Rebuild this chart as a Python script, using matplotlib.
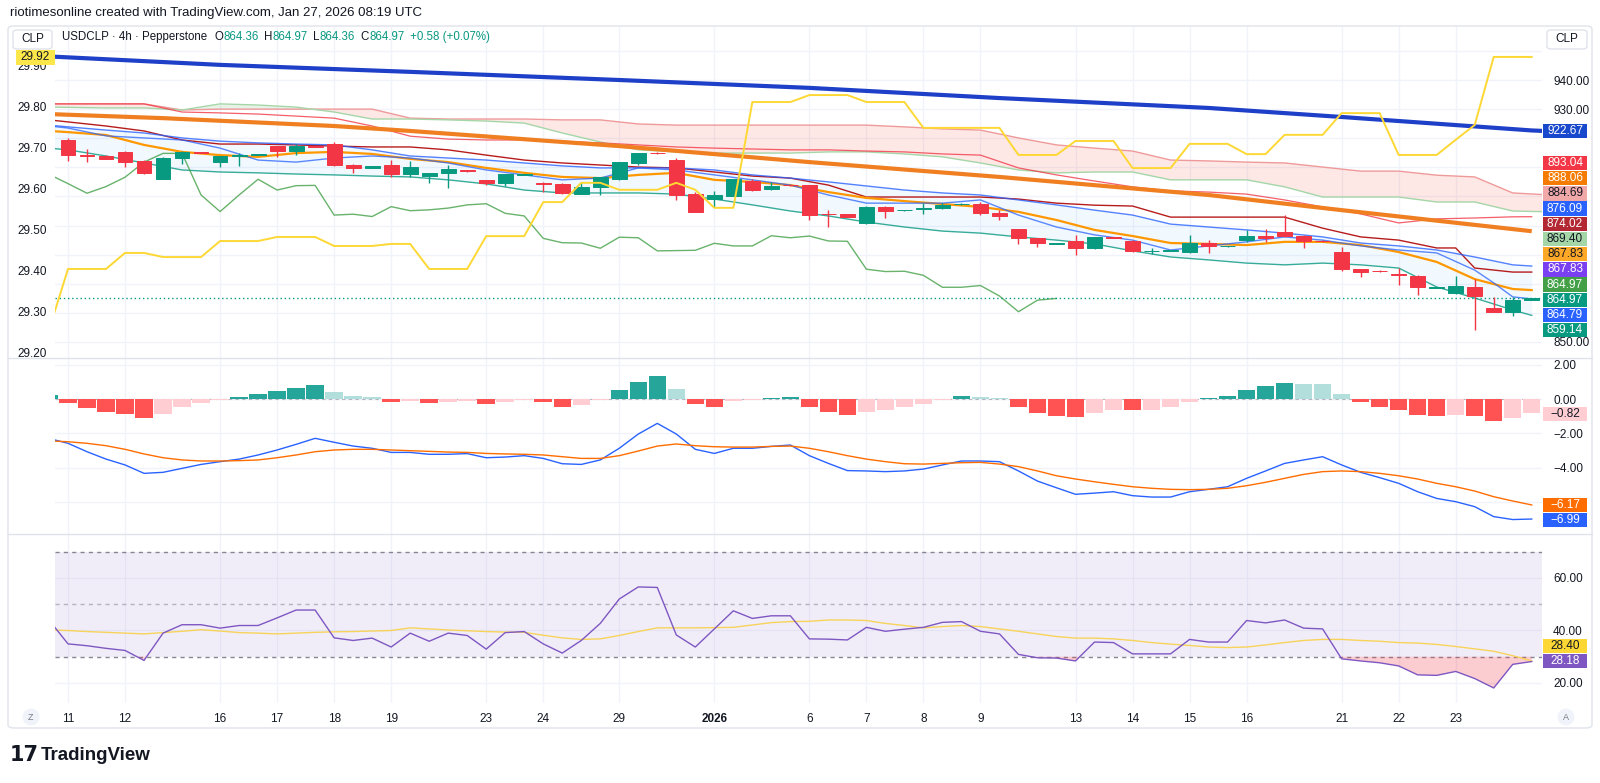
import numpy as np
import matplotlib
matplotlib.use("Agg")
import matplotlib.pyplot as plt
from matplotlib.patches import Rectangle, FancyBboxPatch, Ellipse
from matplotlib.lines import Line2D
from matplotlib.ticker import FuncFormatter

plt.rcParams['font.family'] = ['Liberation Sans', 'DejaVu Sans']

#############################################
## Data (USDCLP 4h)
#############################################
opens = [919.4, 914.1, 914.0, 915.3, 912.2, 906.1, 913.3, 915.1, 912.0, 913.8,
         914.4, 917.3, 915.7, 917.2, 918.0, 910.9, 909.9, 910.9, 907.7, 907.1,
         907.9, 909.1, 905.7, 904.5, 907.4, 904.6, 904.3, 900.8, 903.1, 905.9,
         911.6, 915.0, 912.5, 900.8, 899.1, 900.3, 905.4, 902.4, 904.0, 903.9,
         894.0, 893.9, 890.8, 896.5, 895.2, 895.8, 895.9, 897.3, 897.3, 894.4,
         888.7, 885.6, 883.8, 884.7, 882.2, 886.0, 884.7, 881.3, 881.3, 880.8,
         884.1, 882.9, 885.0, 886.5, 887.7, 886.5, 884.8, 880.8, 875.1, 874.5,
         873.4, 872.8, 868.7, 866.7, 869.0, 861.8, 860.4, 864.36]
highs = [920.2, 916.2, 914.2, 915.5, 912.4, 913.5, 915.5, 915.2, 914.0, 915.0,
         914.6, 917.4, 918.0, 917.3, 918.8, 911.0, 910.6, 912.5, 912.3, 908.0,
         910.8, 909.2, 905.8, 907.8, 907.7, 905.1, 904.5, 905.1, 906.8, 912.0,
         915.0, 915.1, 913.1, 901.6, 902.0, 906.1, 906.1, 905.1, 904.1, 904.1,
         895.3, 894.0, 896.8, 896.6, 895.5, 897.9, 897.6, 897.6, 898.2, 895.3,
         888.9, 885.8, 884.1, 886.7, 886.2, 886.1, 884.9, 882.2, 881.6, 886.7,
         885.0, 883.1, 888.6, 888.9, 893.6, 886.6, 884.9, 882.5, 875.2, 874.6,
         875.3, 873.0, 868.9, 872.8, 871.5, 865.3, 865.3, 864.97]
lows = [912.3, 911.9, 912.9, 910.2, 907.7, 905.9, 911.3, 914.9, 910.2, 910.4,
        914.3, 913.7, 914.4, 916.9, 910.5, 907.9, 909.8, 906.6, 906.6, 904.7,
        902.8, 908.5, 903.9, 903.7, 907.3, 901.6, 900.8, 900.7, 900.5, 905.7,
        910.8, 914.7, 898.8, 894.6, 896.5, 900.1, 901.7, 902.2, 903.7, 891.9,
        889.4, 893.0, 890.5, 892.5, 895.1, 894.1, 895.7, 897.2, 893.6, 892.0,
        883.7, 882.8, 883.7, 879.9, 881.8, 885.7, 881.0, 880.2, 881.2, 880.5,
        880.6, 882.8, 884.5, 884.5, 886.2, 882.2, 884.5, 874.5, 872.2, 874.2,
        869.5, 866.2, 868.6, 866.6, 854.1, 860.3, 858.9, 864.36]
closes = [914.1, 913.8, 913.0, 912.0, 907.9, 913.3, 915.3, 915.0, 913.9, 914.3,
          914.5, 915.7, 917.3, 917.0, 910.7, 909.9, 910.5, 907.7, 910.0, 907.9,
          909.3, 908.6, 904.5, 907.6, 907.6, 904.4, 901.1, 903.4, 906.6, 911.8,
          914.8, 914.8, 900.5, 894.8, 900.5, 905.9, 902.2, 903.7, 903.8, 893.6,
          893.9, 893.1, 896.5, 895.1, 895.4, 896.0, 897.1, 897.5, 894.2, 893.3,
          885.6, 884.1, 884.0, 882.2, 886.0, 885.8, 881.3, 881.4, 881.5, 883.9,
          883.0, 883.0, 886.5, 885.8, 886.4, 884.7, 884.6, 875.0, 874.2, 874.3,
          872.9, 868.8, 868.8, 869.4, 865.8, 860.4, 864.36, 864.97]

# moving averages (thick)
ema_slow_idx = [-1, 8, 18, 29, 39, 49, 60, 67, 77, 78]
ema_slow = [948.1, 945.2, 942.8, 940.0, 937.3, 933.8, 930.4, 927.3, 922.67, 922.4]
ema_mid_idx = [-1, 5, 14, 18, 29, 39, 49, 60, 67, 77]
ema_mid = [928.3, 926.9, 924.2, 922.5, 917.3, 911.8, 906.7, 900.5, 895.3, 888.06]

# Ichimoku leading spans (cloud)
span_idx = [-1, 2, 4, 6, 8, 10, 12, 14, 16, 18, 20, 22, 24, 26, 28, 30, 32, 34, 36, 38,
            40, 42, 44, 46, 48, 50, 52, 54, 56, 58, 60, 62, 64, 66, 68, 70, 72, 74, 76, 78]
span_b = [931.8, 931.8, 931.8, 929.7, 930.0, 930.0, 930.0, 930.0, 930.0, 926.9,
          926.6, 926.6, 926.6, 926.3, 926.3, 924.9, 924.5, 924.5, 924.5, 924.5,
          924.5, 924.5, 923.9, 923.2, 922.8, 920.1, 917.7, 916.6, 915.6, 912.5,
          912.2, 911.8, 911.5, 910.1, 908.7, 908.7, 907.3, 906.7, 901.2, 900.5]
span_a = [930.7, 930.4, 930.4, 929.7, 931.8, 931.4, 930.7, 929.0, 926.6, 926.6,
          926.3, 925.9, 925.2, 921.8, 918.7, 916.0, 915.3, 914.9, 914.9, 914.9,
          915.3, 915.3, 914.6, 913.6, 911.5, 909.1, 908.1, 908.4, 908.4, 905.7,
          905.7, 905.7, 903.3, 899.8, 899.8, 899.8, 898.1, 898.1, 895.0, 894.7]

# thin red average
red_idx = [-1, 2, 4, 6, 8, 10, 12, 14, 16, 18, 20, 22, 24, 26, 28, 30, 32, 34, 36, 38,
           40, 42, 44, 46, 48, 50, 52, 54, 56, 58, 60, 62, 64, 66, 68, 70, 72, 74, 76, 77]
red_line = [931.8, 931.8, 931.8, 929.0, 928.7, 928.3, 927.6, 926.9, 924.2, 920.7,
            919.7, 919.4, 919.4, 919.0, 918.4, 917.7, 917.0, 916.6, 916.3, 916.0,
            916.0, 915.6, 915.3, 914.6, 914.2, 909.8, 907.4, 905.3, 903.3, 901.9,
            901.5, 900.8, 898.8, 896.4, 894.0, 890.9, 892.3, 892.6, 893.0, 893.04]

# Ichimoku base line
base_idx = [-1, 0, 2, 4, 6, 8, 10, 12, 14, 16, 18, 20, 22, 24, 26, 28, 30, 32, 34, 36,
            38, 40, 42, 44, 46, 48, 50, 52, 54, 56, 58, 60, 62, 64, 66, 68, 70, 72, 73, 74, 76, 77]
base_line = [926.3, 925.6, 924.2, 922.5, 919.4, 918.0, 918.0, 917.7, 917.3, 917.0,
             917.0, 916.0, 914.2, 912.5, 911.5, 910.8, 910.1, 909.8, 908.4, 907.0,
             906.3, 903.9, 899.8, 899.8, 899.8, 899.8, 899.1, 897.7, 897.0, 896.7,
             892.9, 892.9, 892.9, 892.9, 889.1, 886.1, 885.0, 882.3, 882.3, 875.4, 874.02, 874.02]

# Bollinger bands and Ichimoku conversion line
band_idx = [-1, 0, 2, 4, 6, 8, 10, 12, 14, 16, 18, 20, 22, 24, 26, 28, 30, 32, 34, 36,
            38, 40, 42, 44, 46, 48, 50, 52, 54, 56, 58, 60, 62, 64, 66, 68, 70, 72, 74, 76, 77]
bb_upper = [924.5, 923.9, 922.8, 921.8, 920.1, 919.0, 918.4, 918.0, 917.7, 916.0,
            913.9, 913.2, 912.5, 911.5, 910.5, 909.8, 909.8, 909.8, 909.1, 907.4,
            906.3, 905.0, 903.6, 902.2, 901.2, 900.5, 898.8, 897.1, 895.3, 893.6,
            890.5, 889.5, 888.5, 887.4, 886.1, 884.0, 883.0, 881.6, 879.2, 876.5, 876.09]
bb_basis = [922.5, 922.1, 921.1, 917.7, 915.3, 914.2, 913.6, 914.9, 915.3, 914.6,
            912.9, 911.8, 909.8, 908.1, 906.7, 906.3, 907.4, 908.1, 905.7, 905.0,
            903.9, 901.5, 899.5, 898.4, 897.4, 896.4, 894.7, 891.9, 888.5, 886.4,
            884.0, 883.7, 883.3, 884.4, 884.4, 883.3, 880.9, 877.5, 871.6, 868.2, 867.83]
bb_lower = [916.6, 916.0, 913.9, 911.5, 909.1, 908.4, 908.1, 907.7, 907.4, 907.0,
            906.7, 905.7, 904.3, 902.2, 901.2, 901.2, 901.2, 900.8, 899.1, 897.1,
            895.0, 893.3, 891.2, 889.5, 888.1, 887.4, 886.1, 885.0, 883.7, 881.3,
            879.2, 878.2, 877.1, 876.5, 877.1, 876.5, 875.4, 868.9, 865.1, 861.0, 859.14]
conv_idx = [-1, 0, 2, 4, 6, 8, 10, 12, 14, 16, 18, 20, 22, 24, 26, 28, 30, 32, 34, 36,
            38, 40, 42, 44, 46, 48, 50, 52, 54, 56, 58, 60, 62, 64, 66, 68, 70, 72, 74, 75, 76, 77]
conv_line = [924.2, 923.5, 920.8, 920.1, 919.4, 916.6, 912.5, 911.8, 913.2, 913.9,
             913.2, 911.5, 909.1, 907.4, 905.7, 906.3, 909.8, 909.1, 907.4, 905.7,
             903.9, 900.5, 897.7, 897.7, 897.7, 898.8, 893.6, 889.5, 886.8, 885.0,
             881.6, 883.0, 884.4, 886.1, 885.0, 883.0, 881.6, 880.6, 874.7, 870.3, 865.5, 864.79]
lag_shift = 25

# overlay symbol on the left scale (yellow)
cmp_vals = [29.256, 29.405, 29.405, 29.405, 29.444, 29.444, 29.434, 29.434, 29.434, 29.473,
            29.473, 29.473, 29.483, 29.483, 29.483, 29.461, 29.461, 29.461, 29.466, 29.466,
            29.405, 29.405, 29.405, 29.485, 29.485, 29.485, 29.568, 29.568, 29.615, 29.615,
            29.598, 29.598, 29.598, 29.615, 29.598, 29.554, 29.554, 29.812, 29.812, 29.812,
            29.829, 29.829, 29.829, 29.812, 29.812, 29.812, 29.749, 29.749, 29.749, 29.749,
            29.749, 29.683, 29.683, 29.683, 29.717, 29.717, 29.717, 29.651, 29.651, 29.651,
            29.710, 29.710, 29.710, 29.685, 29.685, 29.732, 29.732, 29.732, 29.785, 29.785,
            29.785, 29.683, 29.683, 29.683, 29.720, 29.756, 29.922, 29.922, 29.922]

# MACD pane (bars -1 .. 77)
macd = [-2.30, -2.58, -3.07, -3.50, -3.84, -4.33, -4.27, -4.04, -3.81, -3.65, -3.50,
        -3.26, -2.97, -2.64, -2.29, -2.52, -2.74, -2.87, -3.11, -3.11, -3.22, -3.22,
        -3.18, -3.42, -3.38, -3.30, -3.46, -3.77, -3.81, -3.55, -2.87, -2.04, -1.42,
        -2.04, -2.93, -3.17, -2.87, -2.87, -2.76, -2.68, -3.30, -3.75, -4.17, -4.19,
        -4.23, -4.19, -4.08, -3.84, -3.61, -3.61, -3.65, -4.19, -4.78, -5.17, -5.55,
        -5.48, -5.40, -5.63, -5.71, -5.71, -5.40, -5.26, -5.11, -4.62, -4.19, -3.75,
        -3.55, -3.36, -3.84, -4.27, -4.58, -4.91, -5.40, -5.79, -5.98, -6.27, -6.85,
        -7.02, -6.99]
signal = [-2.44, -2.49, -2.58, -2.72, -2.93, -3.20, -3.42, -3.55, -3.61, -3.61, -3.59,
          -3.55, -3.42, -3.26, -3.07, -2.97, -2.93, -2.93, -2.97, -3.01, -3.05, -3.09,
          -3.11, -3.17, -3.20, -3.22, -3.26, -3.36, -3.46, -3.46, -3.30, -3.03, -2.74,
          -2.62, -2.72, -2.78, -2.80, -2.80, -2.76, -2.74, -2.87, -3.07, -3.30, -3.50,
          -3.65, -3.77, -3.79, -3.75, -3.71, -3.69, -3.79, -3.94, -4.19, -4.47, -4.66,
          -4.82, -4.97, -5.11, -5.20, -5.26, -5.28, -5.26, -5.20, -5.05, -4.85, -4.62,
          -4.39, -4.23, -4.19, -4.23, -4.33, -4.47, -4.66, -4.91, -5.11, -5.36, -5.69,
          -5.94, -6.17]
hist = [0.25, -0.25, -0.54, -0.76, -0.87, -1.13, -0.87, -0.49, -0.25, -0.08, 0.14,
        0.29, 0.45, 0.66, 0.82, 0.43, 0.19, 0.10, -0.19, -0.12, -0.25, -0.17,
        -0.14, -0.29, -0.17, -0.04, -0.17, -0.45, -0.37, -0.06, 0.50, 1.01, 1.32,
        0.60, -0.29, -0.45, -0.14, -0.08, 0.08, 0.14, -0.45, -0.76, -0.91, -0.76,
        -0.64, -0.49, -0.29, -0.06, 0.17, 0.12, 0.08, -0.45, -0.82, -0.97, -1.07,
        -0.82, -0.62, -0.66, -0.62, -0.49, -0.19, 0.04, 0.17, 0.54, 0.74, 0.95,
        0.89, 0.89, 0.27, -0.19, -0.45, -0.62, -0.91, -0.97, -0.93, -0.97, -1.28,
        -1.10, -0.82]

# RSI pane (bars -1 .. 77)
rsi = [44.0, 34.9, 34.2, 33.2, 32.4, 28.6, 39.0, 42.2, 42.2, 40.9, 41.9, 41.9, 44.8,
       47.8, 47.8, 37.2, 36.2, 37.1, 33.7, 39.0, 35.9, 39.0, 38.1, 32.9, 39.2, 39.6,
       34.9, 31.4, 36.2, 42.7, 52.0, 56.6, 56.4, 38.3, 33.7, 40.6, 47.5, 44.6, 45.6,
       45.6, 36.8, 36.7, 36.4, 41.2, 39.7, 40.5, 41.2, 43.1, 43.4, 39.7, 38.7, 30.9,
       29.6, 29.5, 28.4, 35.6, 35.4, 31.1, 31.1, 31.1, 36.6, 35.6, 35.6, 43.8, 42.9,
       44.0, 40.9, 40.6, 29.2, 28.4, 27.7, 26.5, 23.1, 22.9, 24.4, 21.7, 18.1, 27.1, 28.18]
rsi_ma = [40.2, 40.0, 39.6, 39.3, 39.0, 38.7, 39.2, 39.7, 40.3, 39.8, 39.2, 39.0, 38.7,
          39.0, 39.3, 39.5, 39.6, 39.8, 40.0, 41.0, 40.6, 40.2, 39.9, 39.6, 39.4, 39.3,
          38.2, 37.2, 36.6, 36.8, 38.1, 39.6, 41.0, 41.0, 41.0, 41.1, 41.2, 42.1, 43.0,
          43.4, 43.5, 44.0, 44.0, 43.8, 42.7, 41.9, 41.0, 41.5, 41.9, 41.5, 40.6, 39.7,
          38.7, 37.7, 37.1, 37.1, 36.8, 36.2, 35.4, 34.8, 34.3, 33.7, 33.5, 33.7, 34.5,
          35.4, 36.2, 36.6, 36.6, 36.2, 35.9, 35.4, 35.2, 34.7, 33.9, 33.0, 32.1, 30.4, 28.40]

# time axis
date_idx = [0, 3, 8, 11, 14, 17, 22, 25, 29, 34, 39, 42, 45, 48, 53, 56, 59, 62, 67, 70, 73]
date_lbl = ['11', '12', '16', '17', '18', '19', '23', '24', '29', '2026', '6', '7', '8',
            '9', '13', '14', '15', '16', '21', '22', '23']

# price scale read-outs (right) and their colours
main_readouts = [893.04, 888.06, 884.69, 876.09, 874.02, 869.40, 867.83, 867.83,
                 864.97, 864.97, 864.79, 859.14]
main_colors = ['#f23645', '#f57c00', '#f0a8a8', '#2962ff', '#b22833', '#a5d6a7',
               '#ffa726', '#7b3ff2', '#43a047', '#089981', '#2962ff', '#089981']

#############################################
## Figure
#############################################
W, H = 1600, 783
TXT = '#131722'
GRID = '#f0f3fa'
UP, DOWN = '#089981', '#f23645'

fig = plt.figure(figsize=(16, 7.83), dpi=100)


def fx(x):
    return x / W


def fy(y):
    return 1 - y / H


def pane(top, bottom, share=None):
    return fig.add_axes([fx(55), fy(bottom), fx(1542) - fx(55), (bottom - top) / H], sharex=share)


def minus(v):
    return f"{v:.2f}".replace('-', '\u2212')


ax = pane(27, 358)
ax_m = pane(358, 534, ax)
ax_r = pane(534, 703, ax)

# left scale for the overlay symbol (twinx moves the host ticks, so set sides afterwards)
axl = ax.twinx()

for a in (ax, ax_m, ax_r):
    for s in a.spines.values():
        s.set_visible(False)
    a.yaxis.tick_right()
    a.tick_params(axis='both', length=0, labelsize=8.5, colors=TXT)
    a.tick_params(axis='y', pad=8)
    a.set_xticks(date_idx)
    a.grid(True, color=GRID, lw=1)
    a.set_axisbelow(True)
    a.yaxis.set_major_formatter(FuncFormatter(lambda v, p: minus(v)))
ax.set_xlim(-0.684, 77.54)
ax.tick_params(axis='x', labelbottom=False)
ax_m.tick_params(axis='x', labelbottom=False)

# ---- main pane
bars = np.arange(len(closes))
o, c = np.array(opens), np.array(closes)
cols = np.where(c >= o, UP, DOWN)

ax.fill_between(band_idx, bb_upper, bb_lower, color='#2196f3', alpha=0.06, lw=0, zorder=1)
sa, sb = np.array(span_a), np.array(span_b)
ax.fill_between(span_idx, sa, sb, where=sb >= sa, interpolate=True, color='#f44336', alpha=0.12, lw=0, zorder=1)
ax.fill_between(span_idx, sa, sb, where=sb < sa, interpolate=True, color='#43a047', alpha=0.12, lw=0, zorder=1)

ax.plot(span_idx, span_b, color='#ef9a9a', lw=1, zorder=2)
ax.plot(span_idx, span_a, color='#a5d6a7', lw=1, zorder=2)
ax.plot(red_idx, red_line, color='#f23645', lw=0.9, alpha=0.8, zorder=2)
ax.plot(base_idx, base_line, color='#b71c1c', lw=1, zorder=2)
ax.plot(band_idx, bb_upper, color='#2962ff', lw=1, alpha=0.8, zorder=2)
ax.plot(band_idx, bb_lower, color='#089981', lw=1, alpha=0.8, zorder=2)
ax.plot(band_idx, bb_basis, color='#ff9800', lw=1.6, zorder=2)
ax.plot(conv_idx, conv_line, color='#2962ff', lw=1, alpha=0.75, zorder=2)
lag = closes[lag_shift - 1:]
ax.plot(np.arange(len(lag)) - 1, lag, color='#43a047', lw=1, alpha=0.8, zorder=2)
ax.plot(ema_slow_idx, ema_slow, color='#1e3fc8', lw=3, zorder=2.5, solid_capstyle='butt')
ax.plot(ema_mid_idx, ema_mid, color='#f07f22', lw=3, zorder=2.5, solid_capstyle='butt')

ax.vlines(bars, lows, highs, colors=cols, lw=1, zorder=3)
ax.bar(bars, np.abs(c - o), bottom=np.minimum(o, c), width=0.78, color=cols,
       edgecolor=cols, lw=0.7, zorder=3.1)
ax.axhline(closes[-1], color=UP, lw=1, ls=(0, (1, 2)), zorder=2)

# price scale: the middle labels sit under the read-out tags, only the free ones are written
ax.set_ylim(844.5, 958.21)
ax.set_yticks(np.arange(850, 951, 10))
ax.yaxis.set_major_formatter(FuncFormatter(lambda v, p: f"{v:.2f}" if round(v) in (850, 930, 940) else ''))

for s in axl.spines.values():
    s.set_visible(False)
axl.yaxis.tick_left()
ax.yaxis.tick_right()
axl.set_ylim(29.1878, 29.995)
axl.set_yticks(np.arange(29.2, 29.95, 0.1))
axl.yaxis.set_major_formatter(FuncFormatter(lambda v, p: f"{v:.2f}"))
axl.tick_params(axis='y', length=0, labelsize=8.5, colors=TXT, pad=6)
axl.plot(np.arange(len(cmp_vals)) - 1, cmp_vals, color='#fdd835', lw=1.4, zorder=4)

# ---- MACD pane
hx = np.arange(len(hist)) - 1
hv = np.array(hist)
prev = np.concatenate([[hv[0]], hv[:-1]])
hcol = np.where(hv >= 0, np.where(hv > prev, '#26a69a', '#b2dfdb'),
                np.where(hv < prev, '#ff5252', '#ffcdd2'))
hcol[0] = '#26a69a'
ax_m.bar(hx, hv, width=0.92, color=hcol, lw=0, zorder=2)
ax_m.axhline(0, color='#787b86', lw=0.8, ls=(0, (3, 3)), alpha=0.5, zorder=1.5)
ax_m.plot(hx, macd, color='#2962ff', lw=1, zorder=3)
ax_m.plot(hx, signal, color='#ff6d00', lw=1, zorder=3)
ax_m.set_ylim(-7.862, 2.388)
ax_m.set_yticks([-6, -4, -2, 0, 2])
ax_m.yaxis.set_major_formatter(FuncFormatter(lambda v, p: '' if v < -5 else minus(v)))

# ---- RSI pane
rx = np.arange(len(rsi)) - 1
rv = np.array(rsi)
ax_r.axhspan(30, 70, color='#7e57c2', alpha=0.1, lw=0, zorder=1)
for lvl, al in ((70, 0.9), (50, 0.5), (30, 0.9)):
    ax_r.axhline(lvl, color='#787b86', lw=1, ls=(0, (3, 3)), alpha=al, zorder=1.5)
ax_r.fill_between(rx, rv, 30, where=rv < 30, interpolate=True, color='#f23645', alpha=0.25, lw=0, zorder=2)
ax_r.plot(rx, rsi_ma, color='#f7d35a', lw=1, zorder=3)
ax_r.plot(rx, rsi, color='#7e57c2', lw=1, zorder=3)
ax_r.set_ylim(12.38, 76.76)
ax_r.set_yticks([20, 40, 60])
ax_r.set_xticklabels(date_lbl)
ax_r.tick_params(axis='x', pad=7)
for t in ax_r.get_xticklabels():
    if t.get_text() == '2026':
        t.set_fontweight('bold')

#############################################
## Chart chrome
#############################################
fig.add_artist(FancyBboxPatch((fx(8), fy(728)), fx(1592) - fx(8), (728 - 26) / H,
                              boxstyle='round,pad=0,rounding_size=0.004', transform=fig.transFigure,
                              fill=False, ec='#e0e3eb', lw=1))
for yy in (358, 534):
    fig.add_artist(Line2D([fx(8), fx(1592)], [fy(yy), fy(yy)], color='#e0e3eb', lw=1))

fig.text(fx(10), fy(13), 'riotimesonline created with TradingView.com, Jan 27, 2026 08:19 UTC',
         fontsize=9.5, color=TXT, va='center')

for x0, x1 in ((13, 52), (1547, 1587)):
    fig.add_artist(FancyBboxPatch((fx(x0), fy(49)), fx(x1) - fx(x0), 19 / H,
                                  boxstyle='round,pad=0,rounding_size=0.003', transform=fig.transFigure,
                                  fc='white', ec='#e0e3eb', lw=1, zorder=5))
    fig.text(fx((x0 + x1) / 2), fy(39.5), 'CLP', fontsize=8.5, color=TXT, ha='center', va='center', zorder=6)

# symbol line: each piece placed right after the previous one
header = [('USDCLP · 4h · Pepperstone', TXT, 7), ('O', TXT, 0.5), ('864.36', UP, 5),
          ('H', TXT, 0.5), ('864.97', UP, 5), ('L', TXT, 0.5), ('864.36', UP, 5),
          ('C', TXT, 0.5), ('864.97', UP, 5), ('+0.58 (+0.07%)', UP, 0)]
renderer = fig.canvas.get_renderer()
hx0 = 62
for s, col, gap in header:
    t = fig.text(fx(hx0), fy(37), s, fontsize=8.3, color=col, va='center', zorder=6)
    hx0 += t.get_window_extent(renderer=renderer).width + gap


def tag(y, s, bg, fg='white', x0=1543, x1=1587):
    fig.add_artist(Rectangle((fx(x0), fy(y + 7.2)), fx(x1) - fx(x0), 14.4 / H,
                             transform=fig.transFigure, fc=bg, ec='none', zorder=5))
    fig.text(fx((x0 + x1) / 2), fy(y), s, fontsize=8.5, color=fg, ha='center', va='center', zorder=6)


dark_bg = {'#f0a8a8', '#a5d6a7', '#ffa726'}
tag(131, f"{ema_slow[-2]:.2f}", '#1848cc')
for k, (v, bg) in enumerate(zip(main_readouts, main_colors)):
    tag(163 + 15.2 * k, f"{v:.2f}", bg, TXT if bg in dark_bg else 'white')
tag(414, minus(hist[-1]), '#ffcdd2', TXT)
tag(505, minus(signal[-1]), '#ff6d00')
tag(520, minus(macd[-1]), '#2962ff')
tag(646, f"{rsi_ma[-1]:.2f}", '#fdd835', TXT)
tag(661, f"{rsi[-1]:.2f}", '#7e57c2')
tag(57.5, f"{cmp_vals[-1]:.2f}", '#fbe74a', TXT, x0=16, x1=55)

for xc, s in ((31, 'Z'), (1566, 'A')):
    fig.add_artist(Ellipse((fx(xc), fy(717)), 17 / W, 17 / H, transform=fig.transFigure,
                           fc='#f0f3fa', ec='none', zorder=5))
    fig.text(fx(xc), fy(717), s, fontsize=6.5, color='#787b86', ha='center', va='center', zorder=6)

fig.text(fx(10), fy(755), '17', fontsize=15, fontweight='heavy', color=TXT, va='center',
         family=['DejaVu Sans'])
fig.text(fx(41), fy(755), 'TradingView', fontsize=13.5, fontweight='bold', color=TXT, va='center')

fig.savefig('out.png', dpi=100, facecolor='white')
